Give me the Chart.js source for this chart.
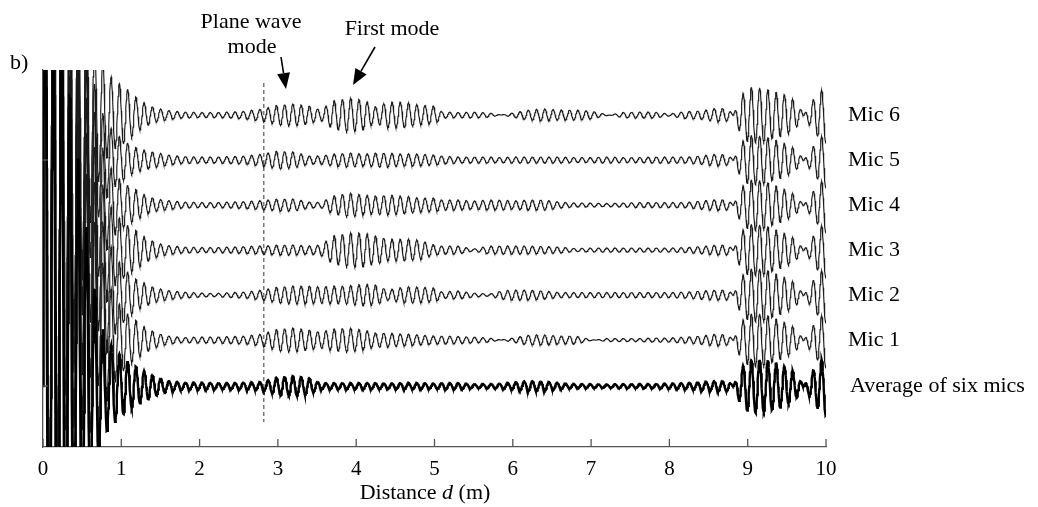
<!DOCTYPE html>
<html><head><meta charset="utf-8">
<script src="https://cdn.jsdelivr.net/npm/chart.js@4.4.1/dist/chart.umd.min.js"></script>
<style>html,body{margin:0;padding:0;background:#fff;}#wrap{width:1038px;height:507px;}</style>
</head><body><div id="wrap"><canvas id="c" width="1038" height="507"></canvas></div>
<script>
// ---- data ----
const traceNames = ['Average of six mics','Mic 1','Mic 2','Mic 3','Mic 4','Mic 5','Mic 6'];
const traceOffsets = [0,46,91,136,181,226,271];           // vertical offset of each trace
const xTicks = [0,1,2,3,4,5,6,7,8,9,10];
const yTickVals = [0,226];
const planeWaveD = 2.82;                                   // dashed marker distance (m)
const wavelength = 0.1055;                                 // carrier period (m)
// envelope sample distances (m)
const envD = [0,0.2,0.4,0.6,0.7,0.8,0.9,1.0,1.1,1.2,
  1.3,1.4,1.5,1.6,1.8,2.0,2.2,2.4,2.6,2.8,
  3.0,3.2,3.4,3.55,3.7,3.9,4.1,4.25,4.4,4.6,
  4.8,5.0,5.1,5.3,5.5,5.7,5.85,6.0,6.2,6.4,
  6.6,6.8,7.0,7.2,7.4,7.6,7.8,8.0,8.2,8.4,
  8.6,8.75,8.82,8.9,9.0,9.1,9.2,9.3,9.4,9.5,
  9.6,9.66,9.72,9.8,9.9,10.0];
// signed envelope amplitudes of each trace
const envAvg = [450,370,260,130,75,47,38,30,24,19,
  15,11,8,5,3.5,3.5,3,3,3.5,4,
  9,10,8,3,3,3,3,3,2.5,3,
  3,2.5,3,3,2,2,2.5,3.5,5,4.5,
  3,2,2,1.5,2,2,2,2.5,3,4,
  5,5,0,-17,-25,-27,-26,-24,-22,-19,
  -14,-7,0,12,23,30];
const envMic1 = [400,330,240,145,100,65,45,33,25,19,
  13,9,6,4,2.5,3,3,3.5,4,6,
  11,12,10,8,11,12,10,7,7,6,
  5,4,4,3.5,3,2,0,-2,-5,-5,
  -4,-4,-0.5,1.5,1.5,1.5,2,2,3,4,
  6,5,0,-17,-25,-27,-26,-23,-20,-17,
  -12,-6,0,11,21,28];
const envMic2 = [400,330,240,140,95,62,42,30,22,15,
  12,8,6,4.5,3,2,1.5,2.5,3,5,
  8,9,9,8,9,9,11,10,5,8,
  8,7,3,4,2,1,4,5,5,4,
  2.5,2.5,2.5,2.5,2.5,2.5,2.5,2.5,3,4,
  5,5,0,-17,-25,-27,-26,-23,-20,-17,
  -12,-6,0,11,21,28];
const envMic3 = [400,330,230,130,85,55,38,30,24,19,
  13,9,6,4.5,3,2.5,2.5,3,3.5,4,
  5,5,4,5,14,17,17,14,11,11,
  10,5,4,4,1,4,4,4,4,3.5,
  3,1.5,2,2,2,2,2,2,2.5,3.5,
  5,5,0,-17,-25,-26,-25,-22,-19,-16,
  -11,-6,0,10,21,28];
const envMic4 = [400,320,220,120,75,48,32,24,19,15,
  10,7,5.5,4.5,3,2.5,2.5,3,3.5,4.5,
  6,6,3,2.5,9,12,10,9,10,9,
  7,7,5,5,4,5,5,4,5,5,
  3,2,2,1.5,2,2.5,2.5,2.5,2.5,4,
  5.5,5,0,-16,-24,-26,-24,-21,-18,-15,
  -10,-5,0,10,20,28];
const envMic5 = [400,320,210,100,60,40,28,22,16,12,
  10,8,6.5,5,3.5,3,3,3.5,4,6,
  9,8,4,4,6,7,6,7,7,6,
  6,5,4,3,3,3,2.5,3,3,3,
  3,2.5,2.5,3,2.5,2.5,3,3,3,4,
  6,5,0,-16,-24,-25,-24,-21,-19,-16,
  -11,-6,0,10,20,28];
const envMic6 = [420,330,220,110,70,45,35,30,25,17,
  12,8,6,4.5,3,2.5,2.5,3,4,6,
  10,11,9,5,14,17,15,8,13,13,
  10,9,3,2.5,3,2,0,-2,-5,-6,
  -5,-5,-4,-0.5,2.5,3,3,1,3.5,4,
  7,6,0,-18,-27,-28,-27,-24,-22,-20,
  -14,-8,0,12,22,28];
const envelopes = [envAvg,envMic1,envMic2,envMic3,envMic4,envMic5,envMic6];

// ---- build traces ----
function envAt(env, d){
  for (let i=0;i<envD.length-1;i++){
    if (d<=envD[i+1]){ const t=(d-envD[i])/(envD[i+1]-envD[i]); return env[i]+(env[i+1]-env[i])*t; }
  }
  return env[env.length-1];
}
const step = 0.005;
function buildTrace(i){
  const pts=[];
  for (let k=0;k<=2000;k++){
    const d=k*step;
    pts.push({x:d, y:traceOffsets[i]+envAt(envelopes[i],d)*Math.sin(2*Math.PI*d/wavelength)});
  }
  return pts;
}
const datasets = traceNames.map((n,i)=>({
  label:n, data:buildTrace(i), borderColor: i===0?'#000':'#1a1a1a',
  borderWidth: i===0?2.4:1.15, pointRadius:0, tension:0, clip:0, fill:false
}));
datasets.push({label:'plane', data:[{x:planeWaveD,y:303},{x:planeWaveD,y:-36}],
  borderColor:'#555', borderWidth:1.2, borderDash:[4,3], pointRadius:0, clip:0});

const SERIF='"Liberation Serif", "Times New Roman", serif';
function arrow(ctx,x1,y1,x2,y2){
  const ang=Math.atan2(y2-y1,x2-x1), L=16, W=6.5;
  const bx=x2-L*Math.cos(ang), by=y2-L*Math.sin(ang);
  ctx.beginPath(); ctx.moveTo(x1,y1); ctx.lineTo(bx,by); ctx.stroke();
  ctx.beginPath(); ctx.moveTo(x2,y2);
  ctx.lineTo(bx+W*Math.sin(ang), by-W*Math.cos(ang));
  ctx.lineTo(bx-W*Math.sin(ang), by+W*Math.cos(ang));
  ctx.closePath(); ctx.fill();
}
const annot = {
  id:'annot',
  afterDraw(chart){
    const {ctx, chartArea:a, scales:{x,y}} = chart;
    ctx.save();
    ctx.strokeStyle='#555'; ctx.lineWidth=1.3;
    xTicks.forEach(v=>{const px=x.getPixelForValue(v); ctx.beginPath(); ctx.moveTo(px,a.bottom); ctx.lineTo(px,a.bottom-8); ctx.stroke();});
    yTickVals.forEach(v=>{const py=y.getPixelForValue(v); ctx.beginPath(); ctx.moveTo(a.left,py); ctx.lineTo(a.left+5,py); ctx.stroke();});
    ctx.fillStyle='#000'; ctx.font='22px '+SERIF; ctx.textBaseline='alphabetic'; ctx.textAlign='left';
    traceNames.forEach((n,i)=>ctx.fillText(n, a.right+22+(i===0?2:0), y.getPixelForValue(traceOffsets[i])+6));
    ctx.fillText('b)', 10, 69);
    ctx.textAlign='center';
    ctx.fillText('Plane wave', 251, 28);
    ctx.fillText('mode', 252, 53);
    ctx.fillText('First mode', 392, 35);
    // axis title with italic d
    const p1='Distance ', p2='d', p3=' (m)';
    ctx.textAlign='left';
    ctx.font='22px '+SERIF; const w1=ctx.measureText(p1).width, w3=ctx.measureText(p3).width;
    ctx.font='italic 22px '+SERIF; const w2=ctx.measureText(p2).width;
    let sx=425-(w1+w2+w3)/2, by=499;
    ctx.font='22px '+SERIF; ctx.fillText(p1,sx,by);
    ctx.font='italic 22px '+SERIF; ctx.fillText(p2,sx+w1,by);
    ctx.font='22px '+SERIF; ctx.fillText(p3,sx+w1+w2,by);
    // arrows
    ctx.strokeStyle='#000'; ctx.fillStyle='#000'; ctx.lineWidth=1.6;
    arrow(ctx,281,57,286,89);
    arrow(ctx,375,47,353,85);
    ctx.restore();
  }
};

new Chart(document.getElementById('c'), {
  type:'line',
  data:{datasets},
  options:{
    responsive:false, animation:false, events:[], parsing:true,
    layout:{padding:{left:43,right:212,top:70,bottom:0}},
    plugins:{legend:{display:false}, tooltip:{enabled:false}, title:{display:false}},
    scales:{
      x:{type:'linear', min:0, max:10,
         afterBuildTicks:s=>{s.ticks=xTicks.map(v=>({value:v}));},
         ticks:{font:{family:SERIF,size:21}, color:'#000', padding:10, maxRotation:0, autoSkip:false},
         grid:{display:true, drawOnChartArea:false, drawTicks:false},
         border:{display:true, color:'#555', width:1.3},
         afterFit:s=>{s.height=60;}},
      y:{type:'linear', min:-61, max:316,
         ticks:{display:false},
         grid:{display:true, drawOnChartArea:false, drawTicks:false},
         border:{display:true, color:'#555', width:1.3},
         afterFit:s=>{s.width=0;}}
    }
  },
  plugins:[annot]
});
</script></body></html>
